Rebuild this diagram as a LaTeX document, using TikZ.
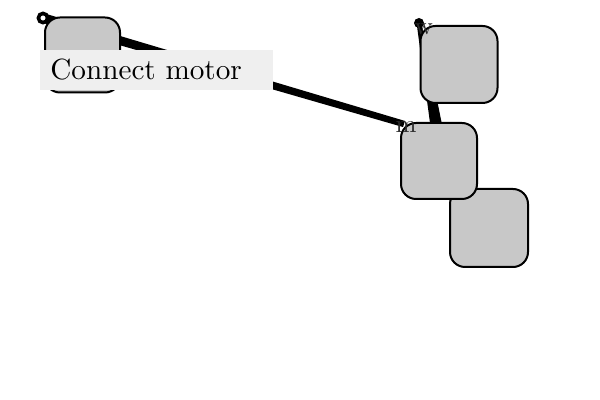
\documentclass[tikz,border=0pt]{standalone}
\usepackage{fontspec}
\usetikzlibrary{calc}
\newfontfamily\tenfont{lmroman10-regular}[Extension=.otf]
\definecolor{boxgray}{HTML}{C8C8C8}
\definecolor{capgray}{HTML}{EFEFEF}
\definecolor{pintext}{HTML}{2A2A2A}
\begin{document}
\begin{tikzpicture}[x=0.5pt,y=-0.5pt,
  block/.style={draw=black, line width=1pt, fill=boxgray, rounded corners=7.5pt,
                inner sep=0pt, minimum width=#1, minimum height=#1},
  block/.default=38pt,
  wire/.style={fill=black},
  pinlabel/.style={font=\tenfont\fontsize{12.5}{13}\selectfont, text=pintext, inner sep=0pt},
  caption/.style={fill=capgray, inner xsep=5pt, inner ysep=0pt, minimum height=20pt,
                  text width=106.5pt, align=left, font=\tenfont\fontsize{14.6}{17}\selectfont}]
\useasboundingbox (0,0) rectangle (600,400);

% wire end points
\coordinate (s1) at (43,18);
\coordinate (e1) at (404,124);
\coordinate (s2) at (419,23);
\coordinate (e2) at (437,130);

% tapered wires
\fill[wire] ($(s1)!2.4pt!90:(e1)$) -- ($(e1)!1.6pt!-90:(s1)$)
         -- ($(e1)!1.6pt!90:(s1)$) -- ($(s1)!2.4pt!-90:(e1)$) -- cycle;
\fill[wire] ($(s2)!1.2pt!90:(e2)$) -- ($(e2)!3pt!-90:(s2)$)
         -- ($(e2)!3pt!90:(s2)$) -- ($(s2)!1.2pt!-90:(e2)$) -- cycle;
\fill[wire] (s2) circle[radius=2.5pt];
\draw[line width=1.8pt, fill=white] (s1) circle[radius=2.3pt];

% blocks
\node[block=39pt] (D) at (489,228) {};
\node[block=38pt] (C) at (439,161) {};
\node[block=38.5pt] (B) at (459,64.5) {};
\node[block=37.5pt] (A) at (82.5,55) {};

% caption and pin labels
\node[caption, anchor=west] (cap) at (40,70) {Connect motor};
\node[pinlabel] (w) at (424,29) {w};
\node[pinlabel] (m) at (406,127) {m};
\end{tikzpicture}
\end{document}
